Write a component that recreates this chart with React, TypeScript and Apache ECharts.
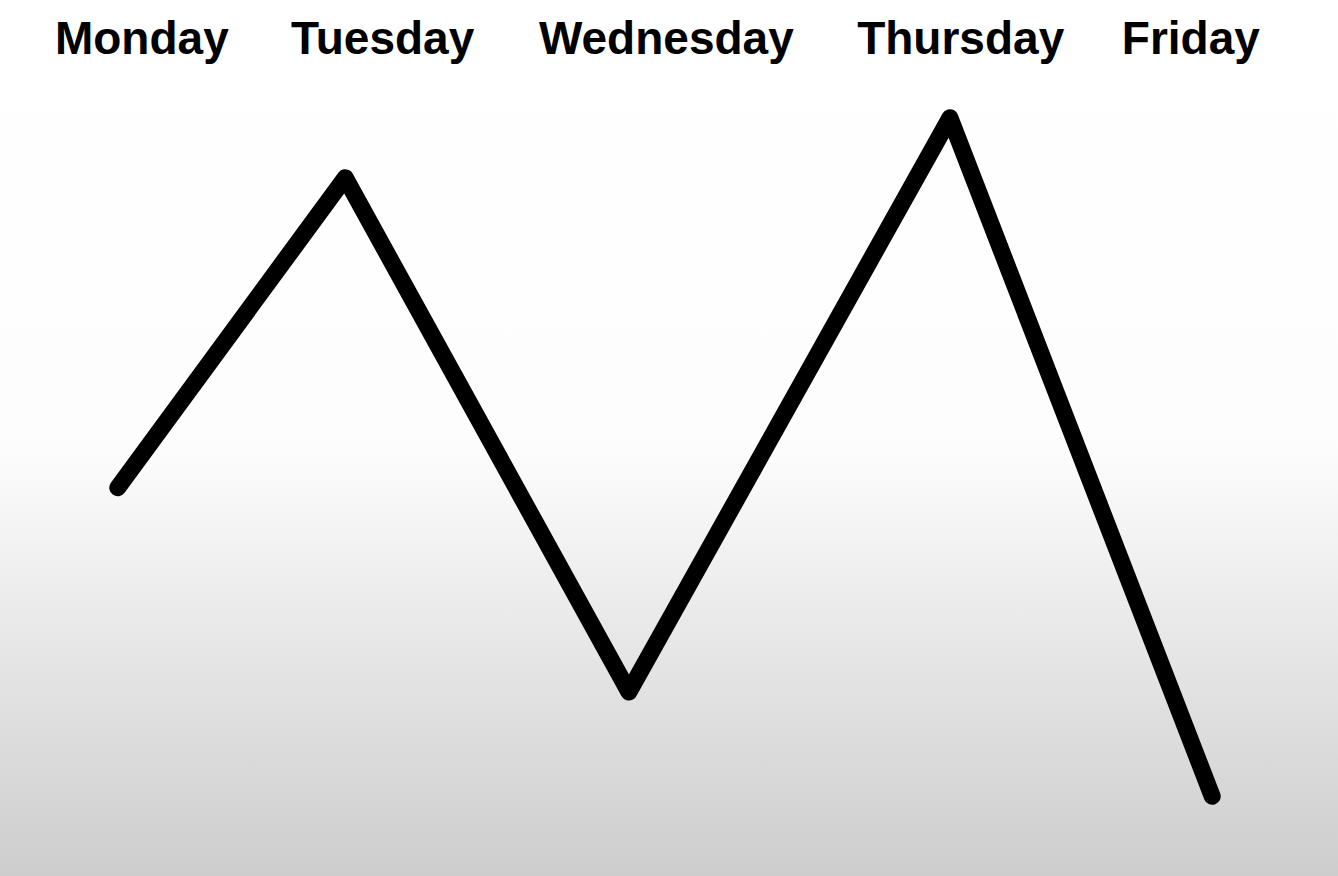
import React, { useEffect, useRef } from "react";
import * as echarts from "echarts";

// Days of the week shown across the top
const days = ["Monday", "Tuesday", "Wednesday", "Thursday", "Friday"];
// Horizontal position of each day's point (value axis units 0..5)
const pointX = [0.44, 1.29, 2.35, 3.55, 4.53];
// Vertical value of each day's point (0..100)
const values = [44.9, 86.8, 17.3, 94.9, 3.2];
// Horizontal position of each day's label on the top axis
const labelX = [0.53, 1.43, 2.49, 3.59, 4.45];

export default function App() {
  const ref = useRef<HTMLDivElement>(null);
  useEffect(() => {
    document.body.style.margin = "0";
    const chart = echarts.init(ref.current!, null, { renderer: "svg" });
    const lineData = pointX.map((x, i) => [x, values[i]]);
    chart.setOption({
      animation: false,
      backgroundColor: new echarts.graphic.LinearGradient(0, 0, 0, 1, [
        { offset: 0, color: "#ffffff" },
        { offset: 0.5, color: "#fdfdfd" },
        { offset: 0.55, color: "#f9f9f9" },
        { offset: 1, color: "#cdcdcd" },
      ]),
      grid: { left: 0, right: 0, top: 80, bottom: 56 },
      xAxis: [
        {
          type: "value",
          min: 0,
          max: 5,
          show: false,
        },
        {
          type: "value",
          position: "top",
          min: 0,
          max: 5,
          axisLine: { show: false },
          axisTick: { show: false },
          splitLine: { show: false },
          axisLabel: {
            customValues: labelX,
            formatter: (v: number) => {
              const i = labelX.findIndex((p) => Math.abs(p - v) < 1e-6);
              return i >= 0 ? days[i] : "";
            },
            margin: 19,
            color: "#000",
            fontSize: 46,
            fontWeight: "bold",
            fontFamily: "'Liberation Sans', Arial, sans-serif",
            showMinLabel: true,
            showMaxLabel: true,
          },
        },
      ],
      yAxis: {
        type: "value",
        min: 0,
        max: 100,
        show: false,
      },
      series: [
        {
          type: "line",
          xAxisIndex: 0,
          data: lineData,
          symbol: "none",
          lineStyle: {
            color: "#000",
            width: 17,
            cap: "round",
            join: "round",
          },
        },
      ],
    });
    return () => chart.dispose();
  }, []);
  return (
    <div
      ref={ref}
      style={{ position: "absolute", left: 0, top: 0, width: 1338, height: 876 }}
    />
  );
}
